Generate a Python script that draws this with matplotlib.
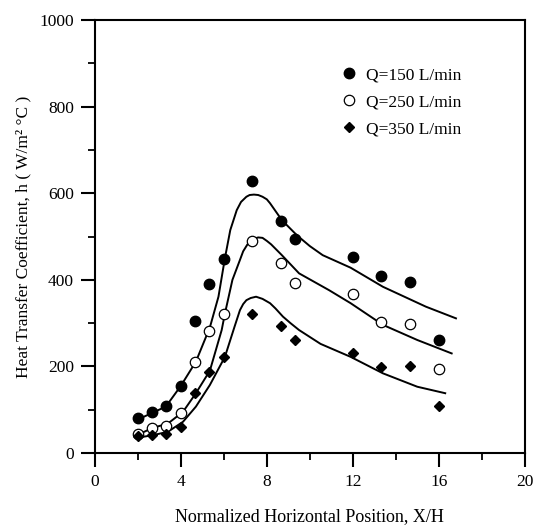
import matplotlib
matplotlib.use("Agg")
import matplotlib.pyplot as plt
from matplotlib.ticker import MultipleLocator

plt.rcParams['font.family'] = ['Liberation Serif', 'DejaVu Serif']

# measured points
x_pos = [2, 2.67, 3.33, 4, 4.67, 5.33, 6, 7.33, 8.67, 9.33, 12, 13.33, 14.67, 16]
h_150 = [81, 94, 109, 155, 305, 391, 449, 629, 536, 494, 453, 409, 394, 262]
h_250 = [44, 58, 63, 93, 210, 282, 322, 490, 438, 393, 367, 302, 298, 195]
h_350 = [39, 41, 44, 59, 138, 186, 222, 321, 294, 261, 232, 199, 202, 109]

# fitted curves
fit_150_x = [1.9, 2.6, 3.3, 4.0, 4.7, 5.35, 5.75, 6.05, 6.3, 6.6, 6.8, 7.05, 7.2,
             7.4, 7.6, 7.8, 8.0, 8.15, 8.7, 9.4, 10.0, 10.6, 11.9, 13.4, 15.4, 16.8]
fit_150_y = [75, 91, 107, 155, 211, 290, 361, 450, 515, 561, 580, 592, 596,
             597, 596, 592, 586, 577, 538, 503, 478, 457, 428, 384, 338, 311]
fit_250_x = [1.9, 2.7, 3.4, 4.1, 4.7, 5.35, 5.9, 6.05, 6.4, 6.75, 6.9, 7.1, 7.4,
             7.6, 7.8, 8.0, 8.2, 8.7, 9.5, 10.9, 11.9, 13.4, 15.0, 16.6]
fit_250_y = [40, 58, 68, 95, 138, 190, 284, 322, 400, 446, 466, 482, 495,
             498, 497, 490, 482, 457, 415, 376, 346, 296, 261, 230]
fit_350_x = [1.95, 2.7, 3.4, 4.1, 4.7, 5.35, 6.05, 6.5, 6.75, 6.9, 7.05, 7.25,
             7.5, 7.8, 8.15, 8.4, 8.75, 9.1, 9.5, 10.5, 11.9, 13.4, 15.0, 16.3]
fit_350_y = [35, 41, 49, 72, 107, 157, 222, 292, 330, 344, 353, 358,
             361, 356, 346, 334, 315, 300, 284, 252, 222, 184, 153, 138]

labels = ["Q=150 L/min", "Q=250 L/min", "Q=350 L/min"]

fig = plt.figure(figsize=(5.36, 5.31), dpi=100)
ax = fig.add_axes([0.177, 0.147, 0.802, 0.815])

for fx, fy in [(fit_150_x, fit_150_y), (fit_250_x, fit_250_y), (fit_350_x, fit_350_y)]:
    ax.plot(fx, fy, color='black', lw=1.4, solid_joinstyle='round')

ax.plot(x_pos, h_150, 'o', color='black', ms=7.5, label=labels[0], ls='none')
ax.plot(x_pos, h_250, 'o', mfc='white', mec='black', mew=0.9, ms=7.5,
        label=labels[1], ls='none')
ax.plot(x_pos, h_350, 'D', color='black', ms=5.5, label=labels[2], ls='none')

ax.set_xlim(0, 20)
ax.set_ylim(0, 1000)
ax.xaxis.set_major_locator(MultipleLocator(4))
ax.xaxis.set_minor_locator(MultipleLocator(2))
ax.yaxis.set_major_locator(MultipleLocator(200))
ax.yaxis.set_minor_locator(MultipleLocator(100))
ax.tick_params(which='major', direction='out', length=10, width=1.5,
               labelsize=12.5, pad=5)
ax.tick_params(which='minor', direction='out', length=5, width=1.3)
for s in ax.spines.values():
    s.set_linewidth(1.5)

ax.set_xlabel("Normalized Horizontal Position, X/H", fontsize=13)
ax.set_ylabel("Heat Transfer Coefficient, h ( W/m² °C )", fontsize=12.5)
ax.xaxis.set_label_coords(0.5, -0.128)
ax.yaxis.set_label_coords(-0.147, 0.5)

ax.legend(loc='upper left', bbox_to_anchor=(0.561, 0.891), frameon=False,
          fontsize=12.5, handletextpad=0.2, labelspacing=0.62, borderpad=0,
          borderaxespad=0, handlelength=1.5)

fig.savefig("out.png", dpi=100)
